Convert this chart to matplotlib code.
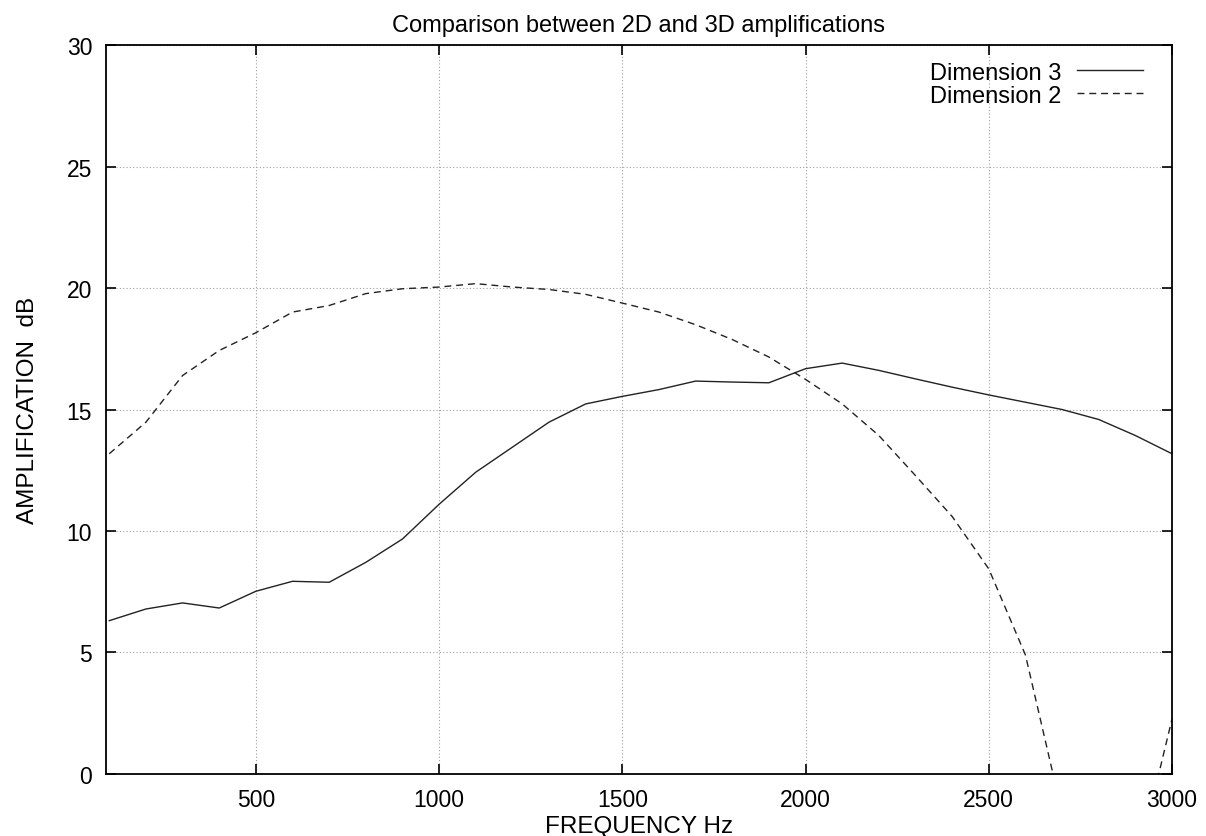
import matplotlib
matplotlib.use('Agg')
import matplotlib.pyplot as plt

plt.rcParams['font.family'] = ['Liberation Sans', 'DejaVu Sans']

freq = [100, 200, 300, 400, 500, 600, 700, 800, 900, 1000,
        1100, 1200, 1300, 1400, 1500, 1600, 1700, 1800, 1900, 2000,
        2100, 2200, 2300, 2400, 2500, 2600, 2700, 2800, 2900, 3000]

dim3 = [6.31, 6.79, 7.04, 6.83, 7.52, 7.93, 7.89, 8.71, 9.67, 11.1,
        12.42, 13.45, 14.48, 15.23, 15.54, 15.82, 16.17, 16.13, 16.10, 16.68,
        16.91, 16.61, 16.26, 15.92, 15.60, 15.30, 15.00, 14.59, 13.93, 13.18]

dim2 = [13.18, 14.48, 16.40, 17.43, 18.16, 19.01, 19.28, 19.77, 19.97, 20.04,
        20.18, 20.04, 19.94, 19.74, 19.38, 19.01, 18.49, 17.88, 17.16, 16.24,
        15.23, 13.93, 12.28, 10.60, 8.44, 4.90, -1.6, -4.5, -4.0, 2.26]

fig = plt.figure(figsize=(12.06, 8.37), dpi=100)
ax = fig.add_axes([0.0879, 0.0741, 0.9718 - 0.0879, 0.945 - 0.0741])

ax.plot(freq, dim3, color='#222222', lw=1.0, label='Dimension 3')
ax.plot(freq, dim2, color='#222222', lw=1.0, dashes=(5, 3.5), label='Dimension 2')

ax.set_xlim(91, 3000)
ax.set_ylim(0, 30)
ax.set_xticks([500, 1000, 1500, 2000, 2500, 3000])
ax.set_yticks([0, 5, 10, 15, 20, 25, 30])
ax.grid(True, color='#a0a0a0', linestyle=(0, (1, 2)), lw=0.8)
ax.tick_params(direction='in', length=7, width=1.2, top=True, right=True,
               labelsize=16.5, pad=10)
for s in ax.spines.values():
    s.set_linewidth(1.3)

ax.set_title('Comparison between 2D and 3D amplifications', fontsize=17, pad=10)
ax.set_xlabel('FREQUENCY Hz', fontsize=17.5, labelpad=3)
ax.set_ylabel('AMPLIFICATION  dB', fontsize=17.5, labelpad=20)

ax.legend(loc='upper right', markerfirst=False, frameon=False, fontsize=17,
          handlelength=2.8, handletextpad=0.64, labelspacing=0.05,
          borderaxespad=0.3, bbox_to_anchor=(0.988, 1.0))

plt.savefig('out.png', dpi=100)
